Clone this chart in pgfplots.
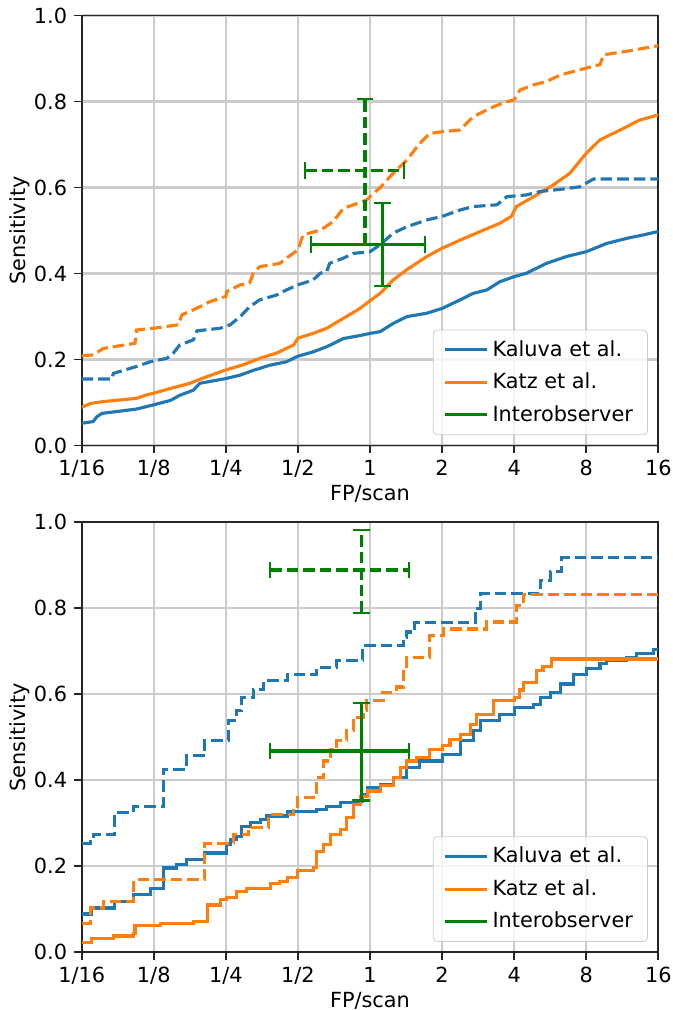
\documentclass[border=0pt]{standalone}
\usepackage{fontspec}
\setmainfont{DejaVu Sans}
\usepackage{pgfplots}
\pgfplotsset{compat=1.18}
\definecolor{cblue}{RGB}{31,119,180}
\definecolor{corange}{RGB}{255,127,14}
\definecolor{cgreen}{RGB}{0,128,0}
\definecolor{cgrid}{RGB}{204,204,204}
\pgfplotsset{
  froc/.style={
    scale only axis, width=276.8pt, height=206.4pt,
    xmin=-4, xmax=4, ymin=0, ymax=1,
    xtick={-4,-3,-2,-1,0,1,2,3,4},
    xticklabels={1/16,1/8,1/4,1/2,1,2,4,8,16},
    ytick={0,0.2,0.4,0.6,0.8,1.0},
    yticklabel style={/pgf/number format/.cd, fixed, fixed zerofill, precision=1, assume math mode=true},
    tick label style={font=\fontsize{10}{12}\selectfont},
    label style={font=\fontsize{10}{12}\selectfont},
    xlabel={FP/scan}, ylabel={Sensitivity},
    xlabel shift=-3pt, ylabel shift=-5pt,
    grid=major, grid style={line width=1.1pt, color=cgrid},
    axis line style={line width=0.8pt, black!85},
    tick align=outside, tick pos=left, major tick length=3.5pt,
    tick style={line width=0.8pt, black!85},
    legend cell align=left,
    legend style={at={(1,0)}, anchor=south east, xshift=-5pt, yshift=5pt,
      draw=cgrid, fill=white, fill opacity=0.8, text opacity=1, rounded corners=2pt,
      font=\fontsize{10}{12}\selectfont, row sep=2.5pt, inner xsep=5pt, inner ysep=3pt},
    legend image code/.code={\draw[#1] (0pt,0pt) -- (20pt,0pt);},
  },
  sol/.style={line width=1.5pt},
  das/.style={line width=1.5pt, dash pattern=on 5.55pt off 2.4pt, forget plot},
  hbar/.style={cgreen, line width=1.5pt, mark=|, mark size=4pt, mark options={solid, line width=1pt}},
  vbar/.style={cgreen, line width=1.5pt, mark=-, mark size=4pt, mark options={solid, line width=1pt}, forget plot},
}
\begin{document}
\begin{tikzpicture}
% ---------------- top panel ----------------
\begin{axis}[froc, at={(39.2pt,-7.5pt)}, anchor=north west]
\addplot[sol, cblue] coordinates {(-4,0.052) (-3.84,0.056) (-3.79,0.067) (-3.72,0.075) (-3.24,0.085) (-3.0,0.095) (-2.77,0.105) (-2.64,0.117) (-2.45,0.129) (-2.36,0.145) (-2.0,0.156) (-1.80,0.164) (-1.62,0.175) (-1.39,0.187) (-1.16,0.195) (-1.0,0.208) (-0.79,0.218) (-0.6,0.230) (-0.37,0.249) (-0.14,0.256) (0,0.261) (0.14,0.265) (0.32,0.284) (0.51,0.30) (0.79,0.308) (1.0,0.319) (1.25,0.339) (1.43,0.354) (1.62,0.362) (1.80,0.381) (2.0,0.393) (2.17,0.401) (2.45,0.424) (2.73,0.44) (3.0,0.451) (3.28,0.47) (3.56,0.482) (3.79,0.49) (4.0,0.498)};
\addlegendentry{Kaluva et al.}
\addplot[sol, corange] coordinates {(-4,0.089) (-3.88,0.098) (-3.72,0.102) (-3.24,0.110) (-3.10,0.118) (-3.0,0.122) (-2.68,0.137) (-2.50,0.145) (-2.27,0.160) (-2.0,0.176) (-1.76,0.188) (-1.53,0.203) (-1.30,0.215) (-1.06,0.234) (-1.0,0.25) (-0.79,0.261) (-0.60,0.273) (-0.37,0.296) (-0.14,0.319) (0,0.337) (0.14,0.354) (0.32,0.385) (0.51,0.409) (0.79,0.44) (1.0,0.459) (1.25,0.478) (1.53,0.498) (1.80,0.517) (1.96,0.533) (2.03,0.556) (2.27,0.579) (2.54,0.606) (2.77,0.633) (3.0,0.68) (3.19,0.711) (3.47,0.734) (3.74,0.757) (4.0,0.769)};
\addlegendentry{Katz et al.}
\addplot[das, cblue] coordinates {(-4,0.155) (-3.58,0.155) (-3.56,0.168) (-3.24,0.184) (-3.05,0.195) (-2.82,0.203) (-2.73,0.215) (-2.64,0.234) (-2.45,0.246) (-2.40,0.267) (-2.08,0.273) (-1.94,0.281) (-1.80,0.30) (-1.67,0.323) (-1.53,0.339) (-1.30,0.35) (-1.16,0.362) (-1.0,0.374) (-0.79,0.385) (-0.69,0.401) (-0.60,0.405) (-0.56,0.424) (-0.37,0.436) (-0.23,0.447) (0,0.451) (0.14,0.467) (0.32,0.494) (0.51,0.509) (0.79,0.525) (1.0,0.533) (1.25,0.548) (1.43,0.556) (1.76,0.56) (1.90,0.579) (2.17,0.583) (2.36,0.591) (2.64,0.596) (2.91,0.602) (3.10,0.62) (4.0,0.62)};
\addplot[das, corange] coordinates {(-4,0.209) (-3.84,0.211) (-3.70,0.226) (-3.26,0.238) (-3.24,0.269) (-3.0,0.273) (-2.66,0.281) (-2.61,0.304) (-2.45,0.316) (-2.36,0.323) (-2.22,0.335) (-2.0,0.347) (-1.99,0.358) (-1.80,0.374) (-1.67,0.378) (-1.62,0.401) (-1.53,0.416) (-1.25,0.424) (-1.16,0.436) (-1.0,0.455) (-0.93,0.49) (-0.69,0.501) (-0.51,0.521) (-0.37,0.552) (-0.23,0.56) (-0.05,0.571) (0,0.579) (0.14,0.60) (0.32,0.633) (0.51,0.664) (0.69,0.703) (0.83,0.726) (1.0,0.73) (1.25,0.734) (1.43,0.765) (1.71,0.788) (1.90,0.80) (2.0,0.804) (2.08,0.827) (2.27,0.839) (2.45,0.847) (2.64,0.862) (3.0,0.878) (3.19,0.886) (3.24,0.909) (3.56,0.917) (3.79,0.924) (4.0,0.93)};
% interobserver (dashed): horizontal and vertical bars with caps
\addplot[hbar, forget plot, dash pattern=on 5.55pt off 2.4pt] coordinates {(-0.90,0.640) (0.476,0.640)};
\addplot[vbar, dash pattern=on 5.55pt off 2.4pt] coordinates {(-0.07,0.468) (-0.07,0.807)};
% interobserver (solid)
\addplot[hbar] coordinates {(-0.824,0.467) (0.763,0.467)};
\addlegendentry{Interobserver}
\addplot[vbar] coordinates {(0.176,0.371) (0.176,0.564)};
\end{axis}
% ---------------- bottom panel ----------------
\begin{axis}[froc, at={(39.2pt,-250.7pt)}, anchor=north west]
\addplot[sol, cblue, const plot] coordinates {(-4,0.089) (-3.86,0.103) (-3.54,0.118) (-3.28,0.135) (-3.05,0.148) (-2.87,0.196) (-2.68,0.204) (-2.54,0.216) (-2.29,0.231) (-1.99,0.251) (-1.94,0.262) (-1.85,0.27) (-1.78,0.293) (-1.66,0.301) (-1.52,0.309) (-1.43,0.317) (-1.15,0.328) (-0.74,0.332) (-0.60,0.34) (-0.41,0.348) (-0.23,0.352) (-0.11,0.367) (-0.04,0.383) (0.14,0.39) (0.32,0.406) (0.51,0.429) (0.69,0.445) (1.0,0.461) (1.25,0.492) (1.43,0.515) (1.53,0.539) (1.80,0.554) (2.0,0.57) (2.27,0.577) (2.36,0.593) (2.50,0.605) (2.64,0.624) (2.82,0.647) (3.0,0.659) (3.19,0.671) (3.28,0.679) (3.56,0.686) (3.70,0.694) (3.93,0.704) (4.0,0.704)};
\addlegendentry{Kaluva et al.}
\addplot[sol, corange, const plot] coordinates {(-4,0.023) (-3.86,0.033) (-3.56,0.038) (-3.28,0.044) (-3.26,0.062) (-2.91,0.066) (-2.54,0.068) (-2.45,0.072) (-2.26,0.11) (-2.08,0.122) (-1.99,0.128) (-1.85,0.142) (-1.71,0.149) (-1.38,0.16) (-1.25,0.165) (-1.15,0.173) (-1.0,0.19) (-0.78,0.198) (-0.74,0.235) (-0.64,0.251) (-0.55,0.274) (-0.41,0.286) (-0.32,0.313) (-0.23,0.344) (-0.13,0.362) (-0.04,0.375) (0.14,0.387) (0.32,0.406) (0.42,0.43) (0.51,0.445) (0.65,0.453) (0.83,0.472) (1.0,0.48) (1.11,0.495) (1.25,0.507) (1.39,0.53) (1.48,0.554) (1.71,0.585) (2.0,0.593) (2.08,0.61) (2.13,0.628) (2.31,0.655) (2.40,0.665) (2.52,0.682) (4.0,0.682)};
\addlegendentry{Katz et al.}
\addplot[das, cblue, const plot] coordinates {(-4,0.254) (-3.88,0.258) (-3.84,0.274) (-3.54,0.325) (-3.28,0.34) (-2.87,0.426) (-2.54,0.457) (-2.29,0.492) (-1.96,0.539) (-1.85,0.562) (-1.78,0.593) (-1.62,0.612) (-1.48,0.632) (-1.15,0.647) (-0.74,0.663) (-0.46,0.679) (-0.10,0.714) (0.46,0.733) (0.51,0.745) (0.62,0.766) (1.46,0.80) (1.53,0.834) (2.36,0.865) (2.50,0.885) (2.66,0.918) (4.0,0.918)};
\addplot[das, corange, const plot] coordinates {(-4,0.068) (-3.88,0.103) (-3.70,0.118) (-3.28,0.169) (-2.29,0.254) (-1.89,0.274) (-1.69,0.29) (-1.41,0.321) (-1.06,0.34) (-1.0,0.36) (-0.74,0.406) (-0.64,0.445) (-0.55,0.472) (-0.46,0.492) (-0.32,0.515) (-0.23,0.546) (-0.09,0.562) (-0.05,0.585) (0.18,0.605) (0.37,0.617) (0.46,0.652) (0.51,0.685) (0.83,0.737) (1.02,0.752) (1.62,0.768) (2.03,0.806) (2.13,0.833) (4.0,0.833)};
\addplot[hbar, forget plot, dash pattern=on 5.55pt off 2.4pt] coordinates {(-1.385,0.889) (0.54,0.889)};
\addplot[vbar, dash pattern=on 5.55pt off 2.4pt] coordinates {(-0.12,0.789) (-0.12,0.982)};
\addplot[hbar] coordinates {(-1.385,0.468) (0.54,0.468)};
\addlegendentry{Interobserver}
\addplot[vbar] coordinates {(-0.12,0.353) (-0.12,0.58)};
\end{axis}
\pgfresetboundingbox
\path (0,0) rectangle (323.0pt,-484.8pt);
\end{tikzpicture}
\end{document}
